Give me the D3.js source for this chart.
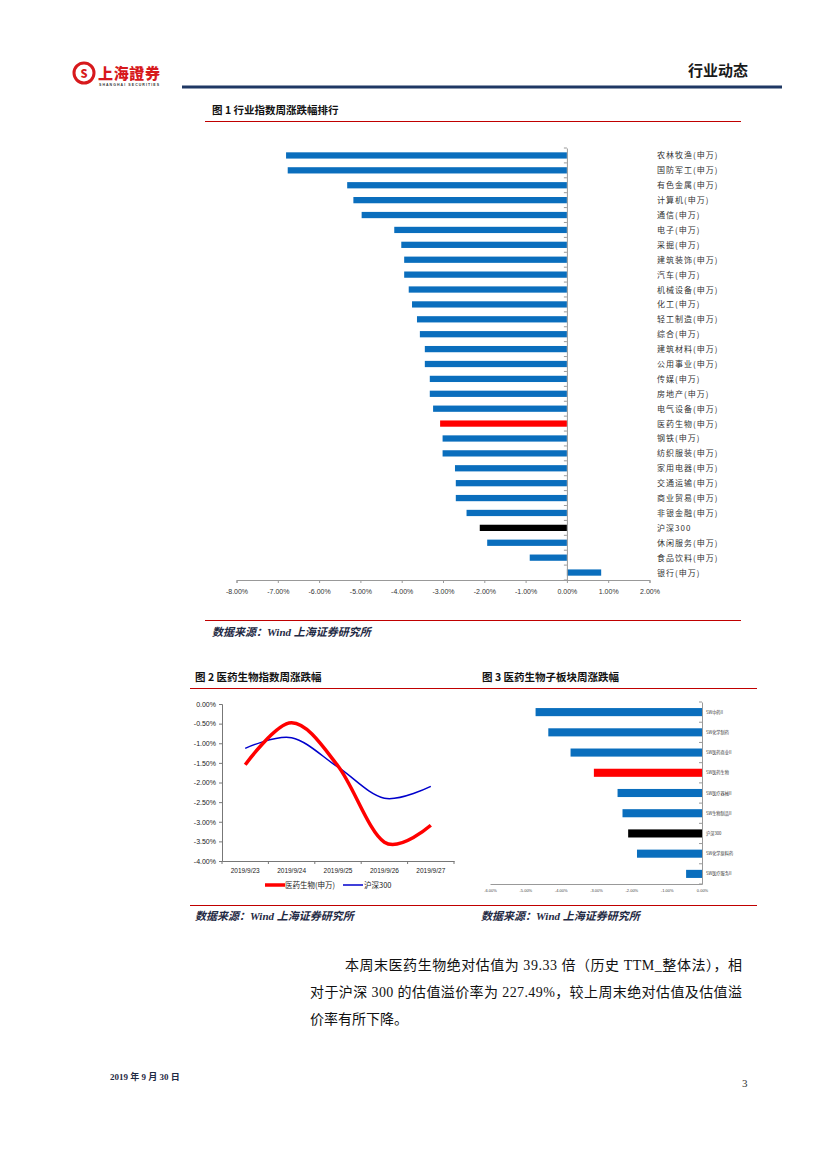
<!DOCTYPE html>
<html><head><meta charset="utf-8">
<script src="https://cdn.jsdelivr.net/npm/d3@7"></script>
<style>
html,body{margin:0;padding:0;background:#fff;}
svg{display:block;}
</style></head>
<body>
<script>
// ---- Data ----
const industries = ["农林牧渔(申万)","国防军工(申万)","有色金属(申万)","计算机(申万)","通信(申万)","电子(申万)","采掘(申万)","建筑装饰(申万)","汽车(申万)","机械设备(申万)","化工(申万)","轻工制造(申万)","综合(申万)","建筑材料(申万)","公用事业(申万)","传媒(申万)","房地产(申万)","电气设备(申万)","医药生物(申万)","钢铁(申万)","纺织服装(申万)","家用电器(申万)","交通运输(申万)","商业贸易(申万)","非银金融(申万)","沪深300","休闲服务(申万)","食品饮料(申万)","银行(申万)"];
const industryChange = [-6.80,-6.76,-5.32,-5.17,-4.97,-4.18,-4.01,-3.94,-3.94,-3.83,-3.75,-3.63,-3.56,-3.44,-3.44,-3.32,-3.32,-3.24,-3.07,-3.01,-3.01,-2.71,-2.69,-2.69,-2.43,-2.11,-1.93,-0.90,0.83];
const chart1Ticks = [-8,-7,-6,-5,-4,-3,-2,-1,0,1,2];

const dates = ["2019/9/23","2019/9/24","2019/9/25","2019/9/26","2019/9/27"];
const pharmaDaily = [-1.55,-0.48,-1.58,-3.52,-3.09];
const hs300Daily = [-1.13,-0.86,-1.61,-2.40,-2.10];
const chart2Ticks = [0,-0.5,-1,-1.5,-2,-2.5,-3,-3.5,-4];
const seriesNames = ["医药生物(申万)","沪深300"];

const subsectors = ["SW中药II","SW化学制药","SW医药商业II","SW医药生物","SW医疗器械II","SW生物制品II","沪深300","SW化学原料药","SW医疗服务II"];
const subsectorChange = [-4.71,-4.35,-3.72,-3.06,-2.39,-2.25,-2.09,-1.84,-0.45];
const chart3Ticks = [-6,-5,-4,-3,-2,-1,0];

// ---- Page ----
const W = 827, H = 1169;
const svg = d3.select("body").append("svg").attr("width", W).attr("height", H);
const CJK = "'Noto Sans CJK SC','Noto Sans',sans-serif";
const SERIF = "'Liberation Serif','Noto Sans CJK SC',serif";
const ARIAL = "'Liberation Sans',Arial,sans-serif";
const pct = d => d.toFixed(2) + "%";

// header logo
const logo = svg.append("g");
logo.append("circle").attr("cx", 84).attr("cy", 73).attr("r", 10).attr("fill", "none").attr("stroke", "#d7191c").attr("stroke-width", 3);
logo.append("text").attr("x", 84).attr("y", 77.5).attr("text-anchor", "middle").attr("font-family", CJK).attr("font-weight", 900).attr("font-size", 11).attr("fill", "#d7191c").text("S");
logo.append("text").attr("x", 98).attr("y", 79).attr("font-family", CJK).attr("font-weight", 900).attr("font-size", 15).attr("fill", "#d7191c").attr("textLength", 62).text("上海證券");
logo.append("text").attr("x", 99).attr("y", 86).attr("font-family", ARIAL).attr("font-weight", 700).attr("font-size", 3.5).attr("fill", "#333").attr("textLength", 60).text("SHANGHAI SECURITIES");

svg.append("text").attr("x", 748).attr("y", 76).attr("text-anchor", "end").attr("font-family", CJK).attr("font-weight", 700).attr("font-size", 15).attr("fill", "#1a1a1a").text("行业动态");
svg.append("line").attr("x1", 182).attr("x2", 782).attr("y1", 87).attr("y2", 87).attr("stroke", "#1f3864").attr("stroke-width", 3);

function title(x, y, t) {
  svg.append("text").attr("x", x).attr("y", y).attr("font-family", CJK).attr("font-weight", 700).attr("font-size", 10.5).attr("fill", "#111").text(t);
}
function source(x, y) {
  svg.append("text").attr("x", x).attr("y", y).attr("font-family", SERIF).attr("font-weight", 700).attr("font-style", "italic").attr("font-size", 11).attr("fill", "#1f2a44").text("数据来源：Wind  上海证券研究所");
}
function redLine(x1, x2, y) {
  svg.append("line").attr("x1", x1).attr("x2", x2).attr("y1", y).attr("y2", y).attr("stroke", "#c00000").attr("stroke-width", 1);
}

// ---- Chart 1 ----
title(212, 114, "图 1 行业指数周涨跌幅排行");
redLine(205, 741, 121.5);
{
  const x = d3.scaleLinear().domain([-8, 2]).range([236.5, 649.5]);
  const y = d3.scaleBand().domain(industries).range([148, 580]).paddingInner(0.58).paddingOuter(0.29);
  const g = svg.append("g");
  g.selectAll("rect").data(industries).join("rect")
    .attr("x", (d, i) => x(Math.min(0, industryChange[i])))
    .attr("width", (d, i) => Math.abs(x(industryChange[i]) - x(0)))
    .attr("y", d => y(d))
    .attr("height", y.bandwidth())
    .attr("fill", d => d === "医药生物(申万)" ? "#ff0000" : d === "沪深300" ? "#000000" : "#0a6ebd");
  const xa = g.append("g").attr("transform", "translate(0,580)")
    .call(d3.axisBottom(x).tickValues(chart1Ticks).tickSize(3).tickPadding(6).tickFormat(pct));
  xa.select(".domain").attr("stroke", "#999");
  xa.selectAll(".tick line").attr("stroke", "#999");
  xa.selectAll("text").attr("font-family", ARIAL).attr("font-size", 7).attr("fill", "#333");
  const ya = g.append("g").attr("transform", `translate(${x(0)},0)`)
    .call(d3.axisLeft(y).tickSize(0).tickFormat(""));
  ya.select(".domain").attr("stroke", "#999");
  const step = y.step();
  g.selectAll(".ytk").data(d3.range(industries.length + 1)).join("line")
    .attr("x1", x(0) - 3).attr("x2", x(0))
    .attr("y1", i => 148 + i * step).attr("y2", i => 148 + i * step)
    .attr("stroke", "#999");
  g.selectAll(".lbl").data(industries).join("text")
    .attr("x", 657).attr("y", d => y(d) + y.bandwidth() / 2 + 3)
    .attr("font-family", CJK).attr("font-size", 8).attr("fill", "#333")
    .attr("letter-spacing", 1)
    .text(d => d);
}
redLine(205, 741, 620.5);
source(212, 636);

// ---- Chart 2 ----
title(195, 681, "图 2 医药生物指数周涨跌幅");
title(482, 681, "图 3 医药生物子板块周涨跌幅");
redLine(190, 757, 688.5);
{
  const x = d3.scaleBand().domain(dates).range([222, 454]);
  const y = d3.scaleLinear().domain([-4, 0]).range([861, 704]);
  const g = svg.append("g");
  const ya = g.append("g").attr("transform", "translate(222,0)")
    .call(d3.axisLeft(y).tickValues(chart2Ticks).tickSize(3).tickPadding(3).tickFormat(pct));
  ya.select(".domain").attr("stroke", "#777");
  ya.selectAll(".tick line").attr("stroke", "#777");
  ya.selectAll("text").attr("font-family", ARIAL).attr("font-size", 7).attr("fill", "#222");
  const xa = g.append("g").attr("transform", "translate(0,861)")
    .call(d3.axisBottom(x).tickSize(0).tickPadding(7));
  xa.select(".domain").attr("stroke", "#777");
  xa.selectAll("text").attr("font-family", ARIAL).attr("font-size", 6.5).attr("fill", "#222");
  g.selectAll(".xt").data(d3.range(dates.length + 1)).join("line")
    .attr("x1", i => 222 + i * x.step()).attr("x2", i => 222 + i * x.step())
    .attr("y1", 861).attr("y2", 864).attr("stroke", "#777");
  const line = d3.line().x((d, i) => x(dates[i]) + x.bandwidth() / 2).y(d => y(d)).curve(d3.curveCardinal.tension(0));
  g.append("path").datum(hs300Daily).attr("d", line).attr("fill", "none").attr("stroke", "#0000cc").attr("stroke-width", 1.5);
  g.append("path").datum(pharmaDaily).attr("d", line).attr("fill", "none").attr("stroke", "#ff0000").attr("stroke-width", 3.5);
  const lg = g.append("g");
  lg.append("line").attr("x1", 265).attr("x2", 285).attr("y1", 885).attr("y2", 885).attr("stroke", "#ff0000").attr("stroke-width", 3.5);
  lg.append("text").attr("x", 285).attr("y", 888).attr("font-family", CJK).attr("font-size", 7.5).attr("fill", "#222").text(seriesNames[0]);
  lg.append("line").attr("x1", 343).attr("x2", 363).attr("y1", 885).attr("y2", 885).attr("stroke", "#0000cc").attr("stroke-width", 1.5);
  lg.append("text").attr("x", 364).attr("y", 888).attr("font-family", CJK).attr("font-size", 7.5).attr("fill", "#222").text(seriesNames[1]);
}

// ---- Chart 3 ----
{
  const x = d3.scaleLinear().domain([-6, 0]).range([490, 702]);
  const y = d3.scaleBand().domain(subsectors).range([702, 884]).paddingInner(0.6).paddingOuter(0.3);
  const g = svg.append("g");
  g.selectAll("rect").data(subsectors).join("rect")
    .attr("x", (d, i) => x(subsectorChange[i]))
    .attr("width", (d, i) => x(0) - x(subsectorChange[i]))
    .attr("y", d => y(d)).attr("height", y.bandwidth())
    .attr("fill", d => d === "SW医药生物" ? "#ff0000" : d === "沪深300" ? "#000000" : "#0a6ebd");
  const xa = g.append("g").attr("transform", "translate(0,884)")
    .call(d3.axisBottom(x).tickValues(chart3Ticks).tickSize(0).tickPadding(5).tickFormat(pct));
  xa.select(".domain").attr("stroke", "#999");
  xa.selectAll("text").attr("font-family", ARIAL).attr("font-size", 4).attr("fill", "#444");
  const ya = g.append("g").attr("transform", "translate(702,0)").call(d3.axisLeft(y).tickSize(0).tickFormat(""));
  ya.select(".domain").attr("stroke", "#999");
  g.selectAll(".yt").data(d3.range(subsectors.length + 1)).join("line")
    .attr("x1", 699).attr("x2", 702)
    .attr("y1", i => 702 + i * y.step()).attr("y2", i => 702 + i * y.step()).attr("stroke", "#999");
  g.selectAll(".lbl").data(subsectors).join("text")
    .attr("x", 706).attr("y", d => y(d) + y.bandwidth() / 2 + 1.5)
    .attr("font-family", CJK).attr("font-size", 4.2).attr("fill", "#333").text(d => d);
}
redLine(190, 757, 905.5);
source(195, 920);
source(481, 920);

// ---- Body text ----
const body = [
  {x: 345, y: 970, w: 397, t: "本周末医药生物绝对估值为 39.33 倍（历史 TTM_整体法），相"},
  {x: 310, y: 997, w: 432, t: "对于沪深 300 的估值溢价率为 227.49%，较上周末绝对估值及估值溢"},
  {x: 310, y: 1024, w: null, t: "价率有所下降。"}
];
body.forEach(b => {
  const t = svg.append("text").attr("x", b.x).attr("y", b.y).attr("font-family", SERIF).attr("font-size", 14).attr("fill", "#111").text(b.t);
  if (b.w) t.attr("textLength", b.w).attr("lengthAdjust", "spacing");
});

svg.append("text").attr("x", 110).attr("y", 1080).attr("font-family", SERIF).attr("font-weight", 700).attr("font-size", 9).attr("fill", "#1f2a44").text("2019 年 9 月 30 日");
svg.append("text").attr("x", 742).attr("y", 1087).attr("font-family", SERIF).attr("font-size", 11).attr("fill", "#333").text("3");
</script>
</body></html>
